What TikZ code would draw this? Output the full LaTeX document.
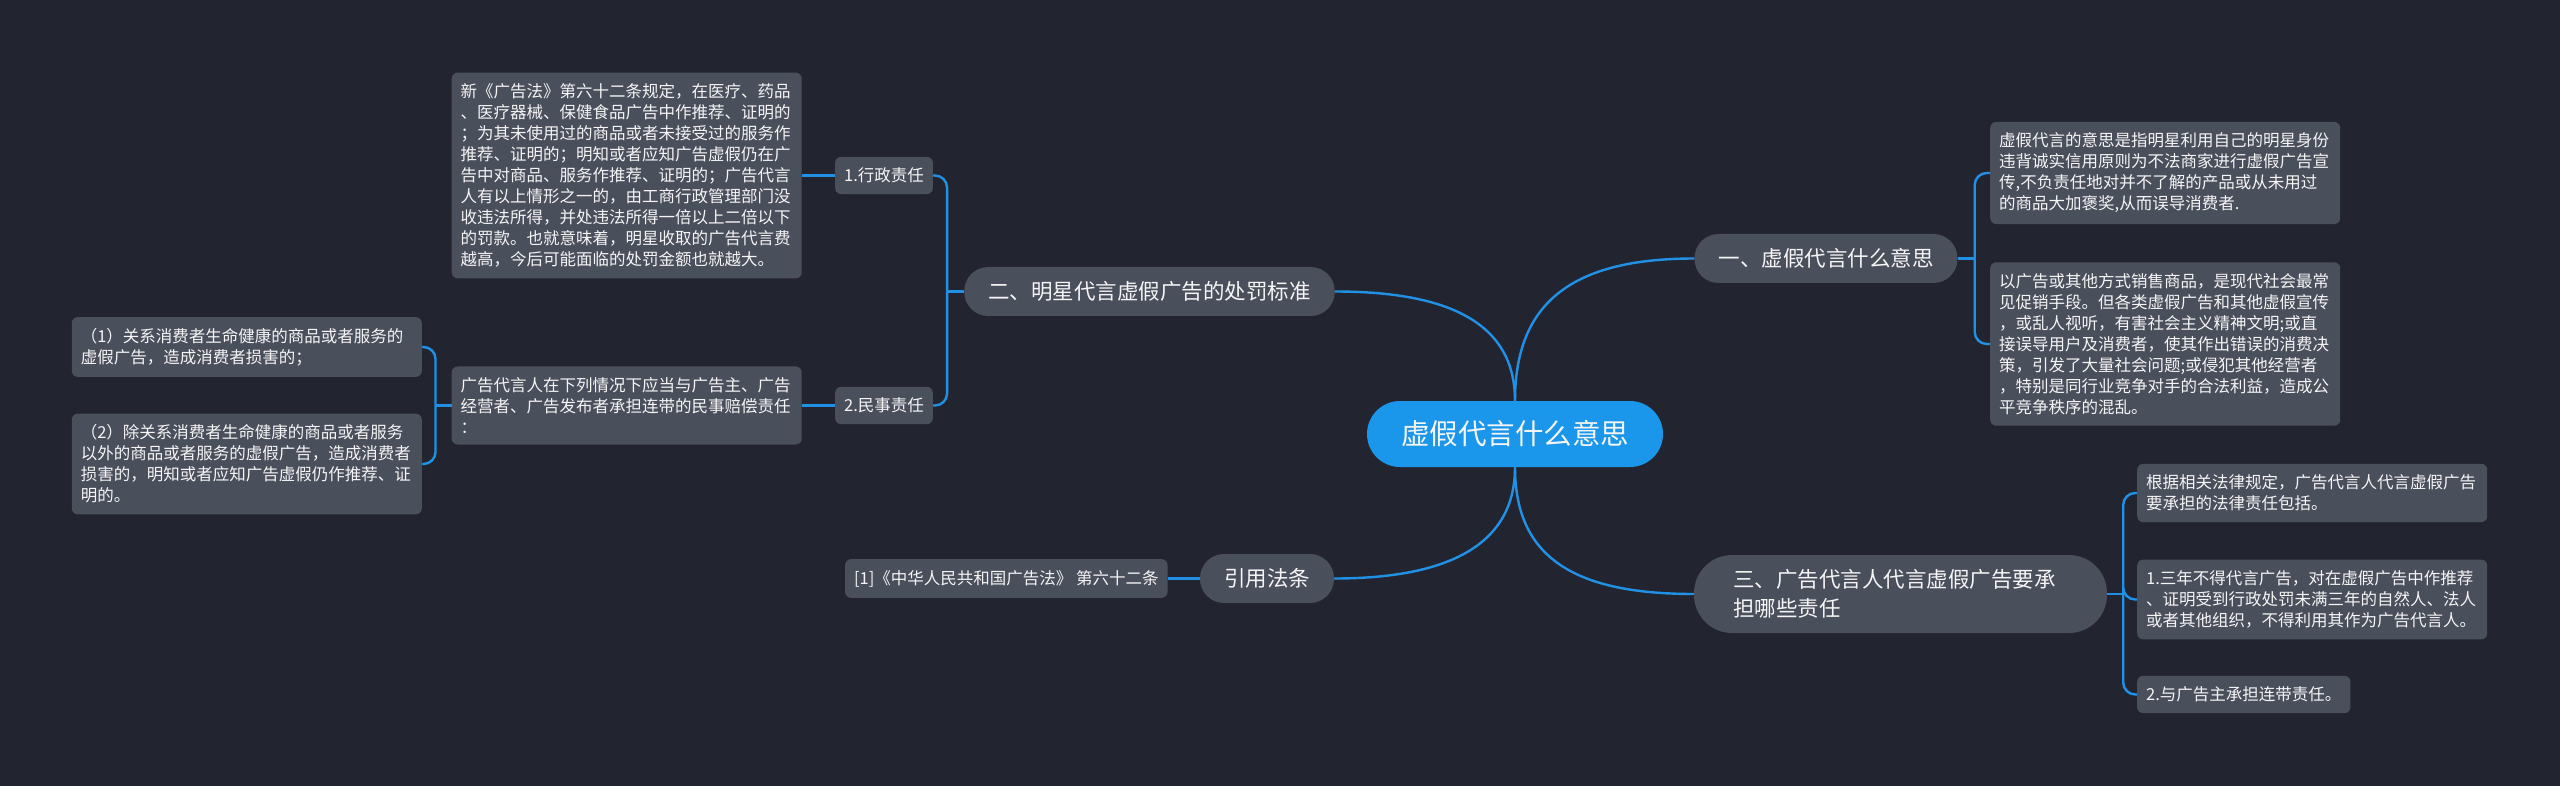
\documentclass[tikz,border=0pt]{standalone}
\usepackage{fontspec}
\setmainfont{Noto Sans CJK SC}
\usetikzlibrary{positioning}
\definecolor{bgdark}{RGB}{34,37,48}
\definecolor{nodegray}{RGB}{74,79,92}
\definecolor{rootblue}{RGB}{26,150,234}
\definecolor{linkblue}{RGB}{33,145,230}
\definecolor{txt}{RGB}{245,245,245}

\begin{document}
\begin{tikzpicture}[
    x=1pt, y=-1pt,
    root/.style={fill=rootblue, rounded corners=33pt, minimum width=296pt, minimum height=66pt, text=txt, font=\fontsize{28.5}{34}\selectfont},
    topic/.style={fill=nodegray, rounded corners=24pt, minimum height=49pt, inner xsep=24pt, text=txt, font=\fontsize{21.5}{28.5}\selectfont},
    leaf/.style={fill=nodegray, rounded corners=6pt, inner xsep=9pt, inner ysep=11pt, align=left, text=txt, font=\fontsize{16.5}{21}\selectfont},
    wide/.style={leaf, text width=332pt},
    link/.style={draw=linkblue, line width=2.4pt},
    node distance=33pt
]

% background
\fill[bgdark] (0,0) rectangle (2560,786);

% main topics
\node[root] (root) at (1515,434) {虚假代言什么意思};
\node[topic] (mean) at (1826,258.5) {一、虚假代言什么意思};
\node[topic] (penalty) at (1149.5,291.5) {二、明星代言虚假广告的处罚标准};
\node[topic, text width=335pt, align=left, inner xsep=39pt, minimum height=78pt, rounded corners=38pt] (duty) at (1900.5,594) {三、广告代言人代言虚假广告要承\\担哪些责任};
\node[topic] (law) at (1267,578.5) {引用法条};

% left side
\node[leaf] (admin) at (884,175.5) {1.行政责任};
\node[leaf] (civil) at (884,405.5) {2.民事责任};
\node[wide, left=of admin] (adminText) {新《广告法》第六十二条规定，在医疗、药品\\、医疗器械、保健食品广告中作推荐、证明的\\；为其未使用过的商品或者未接受过的服务作\\推荐、证明的；明知或者应知广告虚假仍在广\\告中对商品、服务作推荐、证明的；广告代言\\人有以上情形之一的，由工商行政管理部门没\\收违法所得，并处违法所得一倍以上二倍以下\\的罚款。也就意味着，明星收取的广告代言费\\越高，今后可能面临的处罚金额也就越大。};
\node[wide, left=of civil] (civilText) {广告代言人在下列情况下应当与广告主、广告\\经营者、广告发布者承担连带的民事赔偿责任\\：};
\node[wide, anchor=east] (case1) at (422,347) {（1）关系消费者生命健康的商品或者服务的\\虚假广告，造成消费者损害的；};
\node[wide, anchor=east] (case2) at (422,464) {（2）除关系消费者生命健康的商品或者服务\\以外的商品或者服务的虚假广告，造成消费者\\损害的，明知或者应知广告虚假仍作推荐、证\\明的。};
\node[leaf, left=32pt of law] (lawText) {\relax[1]《中华人民共和国广告法》 第六十二条};

% right side
\node[wide, anchor=west] (meanA) at (1990,173) {虚假代言的意思是指明星利用自己的明星身份\\违背诚实信用原则为不法商家进行虚假广告宣\\传,不负责任地对并不了解的产品或从未用过\\的商品大加褒奖,从而误导消费者.};
\node[wide, anchor=west] (meanB) at (1990,344) {以广告或其他方式销售商品，是现代社会最常\\见促销手段。但各类虚假广告和其他虚假宣传\\，或乱人视听，有害社会主义精神文明;或直\\接误导用户及消费者，使其作出错误的消费决\\策，引发了大量社会问题;或侵犯其他经营者\\，特别是同行业竞争对手的合法利益，造成公\\平竞争秩序的混乱。};
\node[wide, anchor=west] (dutyA) at (2137,493) {根据相关法律规定，广告代言人代言虚假广告\\要承担的法律责任包括。};
\node[wide, anchor=west] (dutyB) at (2137,599.5) {1.三年不得代言广告，对在虚假广告中作推荐\\、证明受到行政处罚未满三年的自然人、法人\\或者其他组织，不得利用其作为广告代言人。};
\node[leaf, anchor=west] (dutyC) at (2137,694.5) {2.与广告主承担连带责任。};

% branches from root
\draw[link] (root.north) .. controls +(0,-100) and +(-120,0) .. (mean.west);
\draw[link] (root.north) .. controls +(0,-80) and +(110,0) .. (penalty.east);
\draw[link] (root.south) .. controls +(0,90) and +(-120,0) .. (duty.west);
\draw[link] (root.south) .. controls +(0,80) and +(110,0) .. (law.east);

% brackets
\draw[link] (mean.east) -- ++(17,0) coordinate (meanJ);
\draw[link, rounded corners=12pt] (meanJ) |- (meanA.west);
\draw[link, rounded corners=12pt] (meanJ) |- (meanB.west);
\draw[link] (penalty.west) -- ++(-17,0) coordinate (penaltyJ);
\draw[link, rounded corners=12pt] (penaltyJ) |- (admin.east);
\draw[link, rounded corners=12pt] (penaltyJ) |- (civil.east);
\draw[link] (duty.east) -- ++(16,0) coordinate (dutyJ);
\draw[link, rounded corners=12pt] (dutyJ) |- (dutyA.west);
\draw[link, rounded corners=12pt] (dutyJ) |- (dutyB.west);
\draw[link, rounded corners=12pt] (dutyJ) |- (dutyC.west);
\draw[link] (civilText.west) -- ++(-16,0) coordinate (civilJ);
\draw[link, rounded corners=12pt] (civilJ) |- (case1.east);
\draw[link, rounded corners=12pt] (civilJ) |- (case2.east);

% straight links
\draw[link] (admin.west) -- (adminText.east);
\draw[link] (civil.west) -- (civilText.east);
\draw[link] (law.west) -- (lawText.east);

\end{tikzpicture}
\end{document}
